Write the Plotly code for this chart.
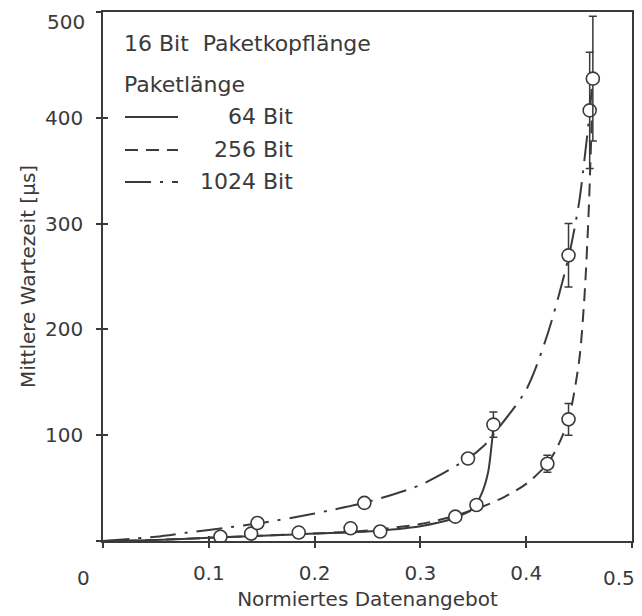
import plotly.graph_objects as go

# ---------------- data ----------------
# theoretical curves
x64_curve = [0, 0.05, 0.1, 0.15, 0.2, 0.25, 0.3, 0.33, 0.35, 0.358, 0.364, 0.367, 0.369]
y64_curve = [0, 1, 3, 5, 7, 9, 14, 21, 31, 45, 65, 88, 108]
x256_curve = [0, 0.05, 0.1, 0.15, 0.2, 0.25, 0.3, 0.33, 0.36, 0.38, 0.4, 0.42, 0.43, 0.44, 0.45, 0.455, 0.459, 0.462]
y256_curve = [0, 1, 3, 5, 7, 10, 16, 23, 33, 42, 54, 73, 90, 115, 170, 230, 310, 400]
x1024_curve = [0, 0.05, 0.08, 0.12, 0.15, 0.2, 0.25, 0.3, 0.345, 0.36, 0.37, 0.4, 0.42, 0.44, 0.45, 0.455, 0.46, 0.463]
y1024_curve = [0, 4, 8, 13, 17, 26, 37, 53, 78, 90, 102, 143, 195, 268, 320, 360, 405, 440]

# measured points (circles) with error bars
m64_x = [0.111, 0.140, 0.185, 0.262, 0.353, 0.369]
m64_y = [4, 7, 8, 9, 34, 110]
m64_err = [0, 0, 0, 0, 0, 12]
m256_x = [0.234, 0.333, 0.420, 0.440, 0.460]
m256_y = [12, 23, 73, 115, 407]
m256_err = [0, 0, 8, 15, 55]
m1024_x = [0.146, 0.247, 0.345, 0.440, 0.463]
m1024_y = [17, 36, 78, 270, 437]
m1024_err = [0, 0, 0, 30, 59]

x_ticks = [0, 0.1, 0.2, 0.3, 0.4, 0.5]
x_ticktext = ["", "0.1", "0.2", "0.3", "0.4", ""]
y_ticks = [0, 100, 200, 300, 400, 500]
y_ticktext = ["", "100", "200", "300", "400", ""]

header = "16 Bit\u00a0 Paketkopflänge"
legend_title = "Paketlänge"
series_names = ["64 Bit", "256 Bit", "1024 Bit"]

# ---------------- styling ----------------
INK = "#3a3a3a"
FONT = "DejaVu Sans"
dashes = ["solid", "13px,8px", "26px,9px,3px,9px"]

fig = go.Figure()

curves = [(x64_curve, y64_curve), (x256_curve, y256_curve), (x1024_curve, y1024_curve)]
for (cx, cy), d in zip(curves, dashes):
    fig.add_trace(go.Scatter(x=cx, y=cy, mode="lines",
                             line=dict(color=INK, width=2, dash=d, shape="spline", smoothing=0.8),
                             showlegend=False, hoverinfo="skip"))

for mx, my, me in [(m64_x, m64_y, m64_err), (m256_x, m256_y, m256_err), (m1024_x, m1024_y, m1024_err)]:
    fig.add_trace(go.Scatter(x=mx, y=my, mode="markers",
                             marker=dict(symbol="circle", size=13, color="white",
                                         line=dict(color=INK, width=1.6)),
                             error_y=dict(type="data", array=me, visible=True,
                                          color=INK, thickness=1.5, width=4),
                             showlegend=False, hoverinfo="skip"))

# dummy trace for the overlay axes (inside tick marks)
fig.add_trace(go.Scatter(x=[None], y=[None], xaxis="x2", yaxis="y2",
                         showlegend=False, hoverinfo="skip"))

# ---------------- layout ----------------
OFF = 8                      # page body margin of the html page
W, H = 642 - OFF, 616 - OFF
PL, PR, PT, PB = 103, 632, 12, 541   # plot area in page pixels
L, R, T, B = PL - OFF, W - (PR - OFF), PT - OFF, H - (PB - OFF)
pw, ph = W - L - R, H - T - B


def px(xp):
    return (xp - OFF - L) / pw


def py(yp):
    return (H - B - (yp - OFF)) / ph


axis_common = dict(showgrid=False, zeroline=False, tickcolor=INK, tickwidth=1.5,
                   linecolor=INK, linewidth=1.5)
tfont = dict(size=20, family=FONT, color=INK)

fig.update_layout(
    width=W, height=H,
    margin=dict(l=L, r=R, t=T, b=B),
    plot_bgcolor="white", paper_bgcolor="white",
    font=dict(family=FONT, color=INK, size=20),
    xaxis=dict(range=[0, 0.5], tickvals=x_ticks, ticktext=x_ticktext,
               ticks="outside", ticklen=5, showline=True, mirror=True,
               ticklabelstandoff=8, tickfont=tfont,
               title=dict(text="Normiertes Datenangebot", standoff=8, font=tfont),
               automargin=False, **axis_common),
    yaxis=dict(range=[0, 500], tickvals=y_ticks, ticktext=y_ticktext,
               ticks="outside", ticklen=5, showline=True, mirror=True,
               ticklabelstandoff=9, tickfont=tfont,
               title=dict(text="Mittlere Wartezeit [µs]", standoff=4, font=tfont),
               automargin=False, **axis_common),
    xaxis2=dict(range=[0, 0.5], overlaying="x", anchor="y2", tickvals=x_ticks,
                ticks="inside", ticklen=5, showticklabels=False, showline=False,
                **axis_common),
    yaxis2=dict(range=[0, 500], overlaying="y", anchor="x2", tickvals=y_ticks,
                ticks="inside", ticklen=5, showticklabels=False, showline=False,
                **axis_common),
    showlegend=False,
)

# edge labels placed as text so they are not dropped at the figure border
fig.add_annotation(text="0", x=px(83), y=py(578), xref="paper", yref="paper",
                   showarrow=False, xanchor="center", yanchor="middle", font=tfont)
fig.add_annotation(text="0.5", x=px(637), y=py(578), xref="paper", yref="paper",
                   showarrow=False, xanchor="right", yanchor="middle", font=tfont)
fig.add_annotation(text="500", x=px(87), y=py(22), xref="paper", yref="paper",
                   showarrow=False, xanchor="right", yanchor="middle", font=tfont)

# hand-drawn style legend
lfont = dict(size=22, family=FONT, color=INK)
fig.add_annotation(text=header, x=px(122), y=py(43), xref="paper", yref="paper",
                   showarrow=False, xanchor="left", yanchor="middle", font=lfont)
fig.add_annotation(text=legend_title, x=px(122), y=py(85), xref="paper", yref="paper",
                   showarrow=False, xanchor="left", yanchor="middle", font=lfont)
leg_y = [117, 150, 182]
for name, d, yy in zip(series_names, dashes, leg_y):
    fig.add_shape(type="line", xref="paper", yref="paper",
                  x0=px(125), x1=px(178), y0=py(yy), y1=py(yy),
                  line=dict(color=INK, width=2, dash=d))
    fig.add_annotation(text=name, x=px(295), y=py(yy - 1), xref="paper", yref="paper",
                       showarrow=False, xanchor="right", yanchor="middle", font=lfont)

fig.write_html("out.html")
